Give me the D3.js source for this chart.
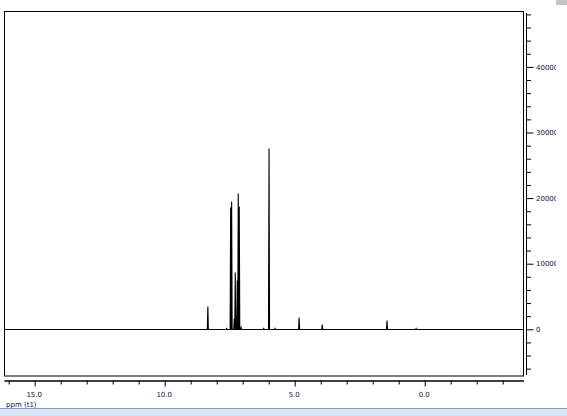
<!DOCTYPE html>
<html><head><meta charset="utf-8">
<script src="https://cdn.jsdelivr.net/npm/d3@7"></script>
<style>
html,body{margin:0;padding:0;background:#fff;overflow:hidden}
svg{display:block}
text{font-family:"DejaVu Sans",sans-serif;font-size:7px;fill:#10104a}
</style></head>
<body>
<script>
// Peak list: chemical shift (ppm) and intensity
const peakPpm = [8.34, 7.62, 7.463, 7.425, 7.325, 7.286, 7.209, 7.170, 7.132, 7.06, 6.19, 5.987, 5.756, 4.83, 3.94, 1.45, 0.33];
const peakInt = [3600, 250, 18700, 19600, 1700, 8800, 7500, 20850, 18800, 350, 200, 27600, 150, 1830, 800, 1400, 250];
// Axis ticks
const xMajorTicks = [15, 10, 5, 0];
const xMinorTicks = [16, 14, 13, 12, 11, 9, 8, 7, 6, 4, 3, 2, 1, -1, -2, -3];
const yMajorTicks = [0, 10000, 20000, 30000, 40000];
const yMinorTicks = [-6000, -4000, -2000, 2000, 4000, 6000, 8000, 12000, 14000, 16000, 18000, 22000, 24000, 26000, 28000, 32000, 34000, 36000, 38000, 42000, 44000, 46000, 48000];
const xDomain = [16.18, -3.80];
const yDomain = [-7120, 48520];
const xLabel = "ppm (t1)";

const W = 567, H = 416;
const svg = d3.select("body").append("svg").attr("width", W).attr("height", H);

const pL = 4, pR = 523.5, pT = 11, pB = 376;
const x = d3.scaleLinear().domain(xDomain).range([pL, pR]);
const y = d3.scaleLinear().domain(yDomain).range([pB, pT]);

const defs = svg.append("defs");
defs.append("clipPath").attr("id", "plotclip")
  .append("rect").attr("x", pL).attr("y", pT).attr("width", pR - pL).attr("height", pB - pT);
defs.append("clipPath").attr("id", "labclip")
  .append("rect").attr("x", -600).attr("y", 0).attr("width", 600 + 556 - 526.5).attr("height", H);

// Frame
svg.append("rect").attr("x", pL + 0.5).attr("y", pT + 0.5)
  .attr("width", pR - pL - 0.5).attr("height", pB - pT - 0.5)
  .attr("fill", "none").attr("stroke", "#000").attr("stroke-width", 1);

// Spectrum
const hw = 0.02;
const order = d3.range(peakPpm.length).sort((a, b) => peakPpm[b] - peakPpm[a]);
const pts = [[xDomain[0], 0]];
order.forEach(i => {
  pts.push([peakPpm[i] + hw, 0], [peakPpm[i], peakInt[i]], [peakPpm[i] - hw, 0]);
});
pts.push([xDomain[1], 0]);
const line = d3.line().x(d => x(d[0])).y(d => Math.round(y(d[1])) + 0.5);
svg.append("path").attr("clip-path", "url(#plotclip)")
  .attr("d", line(pts)).attr("fill", "none").attr("stroke", "#000").attr("stroke-width", 1.1);

// X axis
const xAxisY = 380.5;
const gx = svg.append("g").attr("transform", `translate(0,${xAxisY})`);
gx.call(d3.axisBottom(x).tickValues(xMinorTicks).tickSize(4).tickSizeOuter(0).tickFormat(""));
const gx2 = svg.append("g").attr("transform", `translate(0,${xAxisY})`);
gx2.call(d3.axisBottom(x).tickValues(xMajorTicks).tickSize(6).tickSizeOuter(0).tickFormat(d3.format(".1f")));
[gx, gx2].forEach(g => {
  g.select(".domain").attr("stroke", "#000");
  g.selectAll(".tick line").attr("stroke", "#000");
});
gx2.selectAll(".tick text").attr("y", 16.5).attr("dy", 0).attr("dx", -1)
  .style("font-size", "7px").style("font-family", "'DejaVu Sans',sans-serif").attr("fill", "#10104a");
svg.append("text").attr("x", 6).attr("y", 406.5).text(xLabel);

// Y axis (right)
const yAxisX = 526.5;
const gy = svg.append("g").attr("transform", `translate(${yAxisX},0)`);
gy.call(d3.axisRight(y).tickValues(yMinorTicks).tickSize(4.5).tickSizeOuter(0).tickFormat(""));
const gy2 = svg.append("g").attr("transform", `translate(${yAxisX},0)`).attr("clip-path", "url(#labclip)");
gy2.call(d3.axisRight(y).tickValues(yMajorTicks).tickSize(7).tickSizeOuter(0).tickFormat(d3.format("d")));
[gy, gy2].forEach(g => {
  g.select(".domain").remove();
  g.selectAll(".tick line").attr("stroke", "#000");
});
gy2.selectAll(".tick text").attr("x", 9.5)
  .style("font-size", "7px").style("font-family", "'DejaVu Sans',sans-serif").attr("fill", "#10104a");
svg.append("line").attr("x1", yAxisX).attr("x2", yAxisX).attr("y1", 13).attr("y2", 375).attr("stroke", "#000");

// Window decorations
svg.append("rect").attr("x", 556).attr("y", 0).attr("width", 11).attr("height", 5).attr("fill", "#c4c4c4");
svg.append("rect").attr("x", 0).attr("y", 408).attr("width", W).attr("height", 8).attr("fill", "#d9e6f6");
svg.append("rect").attr("x", 0).attr("y", 408).attr("width", W).attr("height", 1).attr("fill", "#7c9ccb");
</script>
</body></html>
